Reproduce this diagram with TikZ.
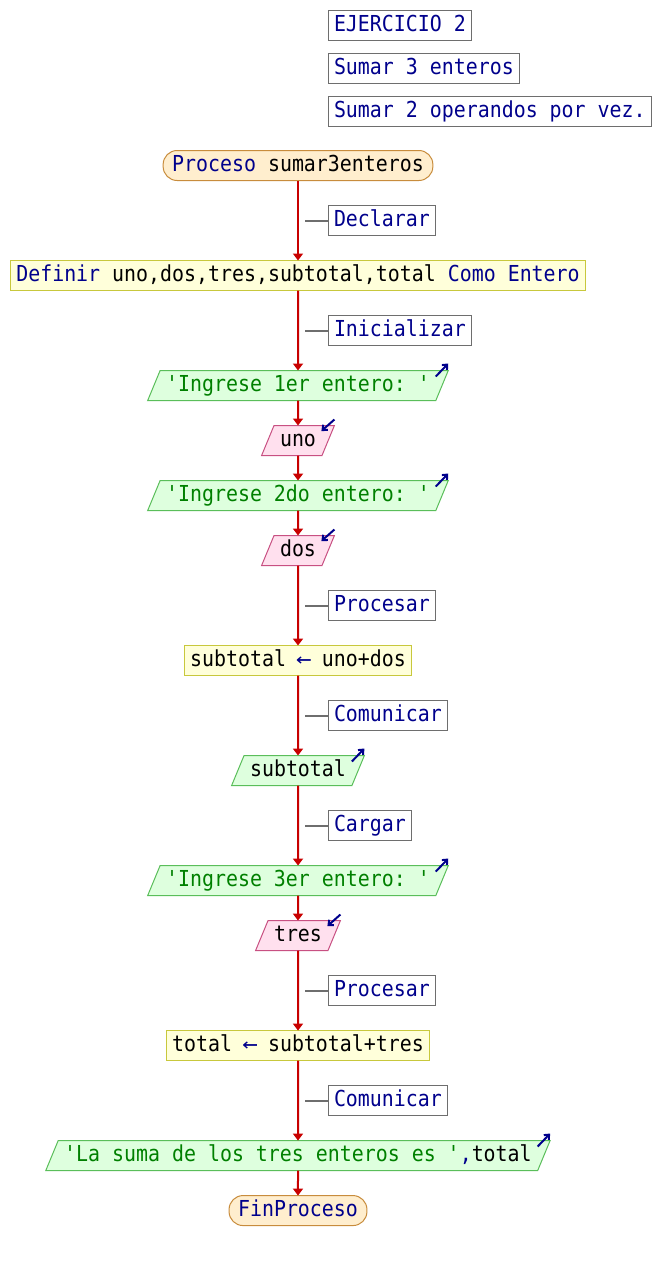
\documentclass[tikz,border=0pt]{standalone}
\usepackage{fontspec}
\setmonofont{DejaVu Sans Mono}[FakeStretch=0.905]
\usetikzlibrary{shapes.geometric, arrows.meta, positioning, calc}
\definecolor{kwblue}{RGB}{0,0,140}
\definecolor{strgreen}{RGB}{0,128,0}
\definecolor{flowred}{RGB}{200,0,0}
\definecolor{notegray}{RGB}{110,110,110}
\definecolor{procfill}{RGB}{255,238,206}
\definecolor{procedge}{RGB}{200,140,60}
\definecolor{asgfill}{RGB}{255,255,218}
\definecolor{asgedge}{RGB}{200,200,60}
\definecolor{outfill}{RGB}{222,255,222}
\definecolor{outedge}{RGB}{90,190,90}
\definecolor{infill}{RGB}{255,224,238}
\definecolor{inedge}{RGB}{200,80,130}
\tikzstyle{base} = [text height=17pt, text depth=5pt, inner ysep=4pt, outer sep=0pt, line width=1pt]
\tikzstyle{proc} = [base, rectangle, rounded corners=14pt, inner xsep=9pt, draw=procedge, fill=procfill]
\tikzstyle{note} = [base, rectangle, inner xsep=6pt, draw=notegray, fill=white, text=kwblue]
\tikzstyle{assign} = [base, rectangle, inner xsep=6pt, draw=asgedge, fill=asgfill]
\tikzstyle{outbox} = [base, trapezium, trapezium left angle=67.5, trapezium right angle=112.5, inner xsep=6pt, draw=outedge, fill=outfill]
\tikzstyle{inbox} = [outbox, draw=inedge, fill=infill]
\tikzstyle{arrow} = [line width=2pt, draw=flowred, -{Triangle[width=10pt,length=7pt]}]
\tikzstyle{tick} = [line width=2pt, draw=notegray]
\tikzstyle{ioarrow} = [line width=2pt, draw=kwblue, -{Straight Barb[length=4pt,width=7pt]}]

\begin{document}
\begin{tikzpicture}[font=\ttfamily\fontsize{22}{26}\selectfont]
\useasboundingbox (0,0) rectangle (662pt,-1261pt);

\node (title) [note, anchor=north west] at (328pt,-10pt) {EJERCICIO 2};
\node (sum3) [note, below right=13pt and 0pt of title.south west] {Sumar 3 enteros};
\node (sum2) [note, below right=13pt and 0pt of sum3.south west] {Sumar 2 operandos por vez.};

\node (start) [proc] at (298pt,-165.5pt) {\textcolor{kwblue}{Proceso} sumar3enteros};
\node (def) [assign, below=80pt of start] {\textcolor{kwblue}{Definir} uno,dos,tres,subtotal,total \textcolor{kwblue}{Como Entero}};
\node (out1) [outbox, text=strgreen, below=80pt of def] {'Ingrese 1er entero: '};
\node (in1) [inbox, below=25pt of out1] {uno};
\node (out2) [outbox, text=strgreen, below=25pt of in1] {'Ingrese 2do entero: '};
\node (in2) [inbox, below=25pt of out2] {dos};
\node (sub) [assign, below=80pt of in2] {subtotal \textcolor{kwblue}{\makebox[12pt]{\scalebox{1.3}[1]{←}}} uno+dos};
\node (outsub) [outbox, below=80pt of sub] {subtotal};
\node (out3) [outbox, text=strgreen, below=80pt of outsub] {'Ingrese 3er entero: '};
\node (in3) [inbox, below=25pt of out3] {tres};
\node (tot) [assign, below=80pt of in3] {total \textcolor{kwblue}{\makebox[12pt]{\scalebox{1.3}[1]{←}}} subtotal+tres};
\node (outsum) [outbox, below=80pt of tot] {\textcolor{strgreen}{'La suma de los tres enteros es '}\textcolor{kwblue}{,}total};
\node (fin) [proc, text=kwblue, below=25pt of outsum] {FinProceso};

\draw[arrow] (start) -- (def);
\draw[arrow] (def) -- (out1);
\draw[arrow] (out1) -- (in1);
\draw[arrow] (in1) -- (out2);
\draw[arrow] (out2) -- (in2);
\draw[arrow] (in2) -- (sub);
\draw[arrow] (sub) -- (outsub);
\draw[arrow] (outsub) -- (out3);
\draw[arrow] (out3) -- (in3);
\draw[arrow] (in3) -- (tot);
\draw[arrow] (tot) -- (outsum);
\draw[arrow] (outsum) -- (fin);

% comments beside the flow
\coordinate (k1) at ($(start.south)!0.5!(def.north)+(7pt,0)$);
\coordinate (k2) at ($(def.south)!0.5!(out1.north)+(7pt,0)$);
\coordinate (k3) at ($(in2.south)!0.5!(sub.north)+(7pt,0)$);
\coordinate (k4) at ($(sub.south)!0.5!(outsub.north)+(7pt,0)$);
\coordinate (k5) at ($(outsub.south)!0.5!(out3.north)+(7pt,0)$);
\coordinate (k6) at ($(in3.south)!0.5!(tot.north)+(7pt,0)$);
\coordinate (k7) at ($(tot.south)!0.5!(outsum.north)+(7pt,0)$);
\node (c1) [note, right=23pt of k1] {Declarar};
\node (c2) [note, right=23pt of k2] {Inicializar};
\node (c3) [note, right=23pt of k3] {Procesar};
\node (c4) [note, right=23pt of k4] {Comunicar};
\node (c5) [note, right=23pt of k5] {Cargar};
\node (c6) [note, right=23pt of k6] {Procesar};
\node (c7) [note, right=23pt of k7] {Comunicar};
\draw[tick] (k1) -- (c1);
\draw[tick] (k2) -- (c2);
\draw[tick] (k3) -- (c3);
\draw[tick] (k4) -- (c4);
\draw[tick] (k5) -- (c5);
\draw[tick] (k6) -- (c6);
\draw[tick] (k7) -- (c7);

% input / output marks
\draw[ioarrow] ([shift={(-12.5pt,-6pt)}]out1.top right corner) -- ([shift={(0pt,7pt)}]out1.top right corner);
\draw[ioarrow] ([shift={(-12.5pt,-6pt)}]out2.top right corner) -- ([shift={(0pt,7pt)}]out2.top right corner);
\draw[ioarrow] ([shift={(-12.5pt,-6pt)}]outsub.top right corner) -- ([shift={(0pt,7pt)}]outsub.top right corner);
\draw[ioarrow] ([shift={(-12.5pt,-6pt)}]out3.top right corner) -- ([shift={(0pt,7pt)}]out3.top right corner);
\draw[ioarrow] ([shift={(-12.5pt,-6pt)}]outsum.top right corner) -- ([shift={(0pt,7pt)}]outsum.top right corner);
\draw[ioarrow] ([shift={(0pt,6pt)}]in1.top right corner) -- ([shift={(-13pt,-5.5pt)}]in1.top right corner);
\draw[ioarrow] ([shift={(0pt,6pt)}]in2.top right corner) -- ([shift={(-13pt,-5.5pt)}]in2.top right corner);
\draw[ioarrow] ([shift={(0pt,6pt)}]in3.top right corner) -- ([shift={(-13pt,-5.5pt)}]in3.top right corner);
\end{tikzpicture}
\end{document}
